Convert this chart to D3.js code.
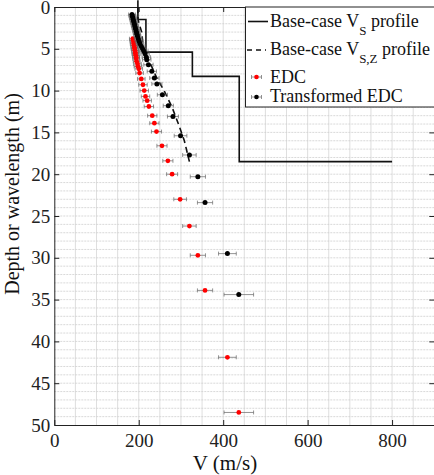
<!DOCTYPE html>
<html>
<head>
<meta charset="utf-8">
<script src="https://cdn.jsdelivr.net/npm/d3@7"></script>
</head>
<body style="margin:0;background:#fff">
<svg width="434" height="475" style="display:block"></svg>
<script>
// base-case Vs step profile (layer velocity and layer top depth)
const vsLayerV = [198, 217, 327, 438, 800]
const vsLayerTop = [-0.8, 1.5, 5.4, 8.3, 18.5]

// base-case Vs,z profile
const vszV = [198, 198, 207, 210, 211, 225, 234, 241, 260, 279, 294, 308, 320]
const vszDepth = [0, 1.5, 3, 4.5, 5.4, 6.5, 7.5, 8.3, 10, 12, 14, 16, 18.5]

// EDC (red)
const edcV = [186, 187, 188, 188, 189, 190, 190, 191, 192, 192,
	193, 194, 194, 195, 197, 198, 200, 202, 206, 210,
	213, 216, 220, 224, 232, 237, 242, 255, 269, 279,
	298, 320, 340, 357, 410, 437]
const edcDepth = [3.8, 4.0, 4.2, 4.4, 4.6, 4.8, 5.0, 5.2, 5.4, 5.6,
	5.8, 6.0, 6.2, 6.5, 6.8, 7.1, 7.4, 7.9, 8.6, 9.3,
	10.0, 10.7, 11.2, 11.9, 13.0, 13.9, 14.9, 16.6, 18.4, 20.0,
	23.0, 26.2, 29.7, 33.9, 41.9, 48.5]
const edcErr = [8, 8, 8, 8, 8, 8, 8, 8, 8, 8,
	8, 8, 8, 8, 9, 9, 9, 9, 9, 10,
	10, 10, 10, 11, 11, 11, 12, 12, 12, 13,
	15, 16, 18, 18, 21, 35]

// transformed EDC (black)
const trV = [184, 185, 186, 187, 188, 189, 190, 191, 192, 193,
	194, 195, 196, 197, 199, 201, 203, 206, 209, 212,
	215, 218, 219, 223, 231, 237, 243, 256, 270, 281,
	299, 320, 340, 357, 410, 437]
const trDepth = [0.9, 1.1, 1.3, 1.5, 1.7, 1.9, 2.1, 2.3, 2.5, 2.7,
	2.9, 3.1, 3.3, 3.5, 3.8, 4.1, 4.4, 4.7, 5.0, 5.3,
	5.6, 6.0, 6.3, 6.9, 7.7, 8.5, 9.2, 10.5, 11.8, 13.1,
	15.4, 17.7, 20.3, 23.4, 29.5, 34.4]
const trErr = [8, 8, 8, 8, 8, 8, 8, 8, 8, 8,
	8, 8, 8, 8, 9, 9, 9, 9, 9, 10,
	10, 10, 10, 11, 11, 11, 12, 12, 12, 13,
	15, 16, 18, 18, 21, 35]

const xTicks = [0, 200, 400, 600, 800]
const yTicks = [0, 5, 10, 15, 20, 25, 30, 35, 40, 45, 50]

const FONT = "'Liberation Serif'"

const svg = d3.select("svg").style("font-family", FONT)

const mLeft = 54.3, mRight = 434.3, mTop = 7, mBottom = 425

const x = d3.scaleLinear().domain([0, 900]).range([mLeft, mRight])
const y = d3.scaleLinear().domain([0, 50]).range([mTop, mBottom])

// grid
const grid = svg.append("g")
grid.selectAll("line.gx")
	.data(d3.range(50, 900, 50))
	.enter()
	.append("line")
	.attr("x1", d => x(d)).attr("x2", d => x(d))
	.attr("y1", mTop).attr("y2", mBottom)
	.style("stroke", "#d6d6d6")
	.style("stroke-width", 0.8)
grid.selectAll("line.gy")
	.data(d3.range(1, 50, 1))
	.enter()
	.append("line")
	.attr("x1", mLeft).attr("x2", mRight)
	.attr("y1", d => y(d)).attr("y2", d => y(d))
	.style("stroke", "#cfcfcf")
	.style("stroke-width", 0.8)
	.style("stroke-dasharray", "2,1")

// axes (ticks pointing inward)
const axisStyle = g => {
	g.attr("font-family", null)
	g.selectAll("path").style("stroke", "#222").style("stroke-width", 1)
	g.selectAll("line").style("stroke", "#222")
	g.selectAll("text").style("font-size", "19px").style("fill", "#222")
		.style("font-family", FONT)
}

svg.append("g")
	.attr("transform", `translate(0,${mBottom})`)
	.call(d3.axisBottom(x).tickValues(xTicks).tickSize(-5).tickSizeOuter(0).tickPadding(9))
	.call(axisStyle)
svg.append("g")
	.attr("transform", `translate(0,${mTop})`)
	.call(d3.axisTop(x).tickValues(xTicks).tickSize(-5).tickSizeOuter(0).tickFormat(""))
	.call(axisStyle)
svg.append("g")
	.attr("transform", `translate(${mLeft},0)`)
	.call(d3.axisLeft(y).tickValues(yTicks).tickSize(-5).tickSizeOuter(0).tickPadding(4))
	.call(axisStyle)
svg.append("g")
	.attr("transform", `translate(${mRight},0)`)
	.call(d3.axisRight(y).tickValues(yTicks).tickSize(-5).tickSizeOuter(0).tickFormat(""))
	.call(axisStyle)

// Vs step profile
const vsPts = []
vsLayerV.forEach((v, i) => {
	if (i > 0) vsPts.push([v, vsLayerTop[i]])
	if (i < vsLayerV.length - 1) {
		vsPts.push([v, vsLayerTop[i]])
		vsPts.push([v, vsLayerTop[i + 1]])
	}
})
const line = d3.line().x(d => x(d[0])).y(d => y(d[1]))

svg.append("path")
	.datum(vsPts)
	.attr("d", line)
	.style("fill", "none")
	.style("stroke", "#111")
	.style("stroke-width", 1.6)

// Vs,z profile
svg.append("path")
	.datum(vszV.map((v, i) => [v, vszDepth[i]]))
	.attr("d", line)
	.style("fill", "none")
	.style("stroke", "#111")
	.style("stroke-width", 1.6)
	.style("stroke-dasharray", "6,4")

// error bar series
function drawSeries(vs, ds, errs, color, r) {
	const pts = vs.map((v, i) => ({ v: v, d: ds[i], e: errs[i] }))
	const g = svg.append("g")
	const bars = g.selectAll("g.bar").data(pts).enter().append("g").attr("class", "bar")
	bars.append("line")
		.attr("x1", d => x(d.v - d.e)).attr("x2", d => x(d.v + d.e))
		.attr("y1", d => y(d.d)).attr("y2", d => y(d.d))
	bars.append("line")
		.attr("x1", d => x(d.v - d.e)).attr("x2", d => x(d.v - d.e))
		.attr("y1", d => y(d.d) - 2).attr("y2", d => y(d.d) + 2)
	bars.append("line")
		.attr("x1", d => x(d.v + d.e)).attr("x2", d => x(d.v + d.e))
		.attr("y1", d => y(d.d) - 2).attr("y2", d => y(d.d) + 2)
	bars.selectAll("line").style("stroke", "#666").style("stroke-width", 0.7)
	g.selectAll("circle").data(pts).enter().append("circle")
		.attr("cx", d => x(d.v)).attr("cy", d => y(d.d)).attr("r", r)
		.style("fill", color)
}
drawSeries(edcV, edcDepth, edcErr, "#ff0000", 2.4)
drawSeries(trV, trDepth, trErr, "#000", 2.5)

// legend
const lg = svg.append("g")
lg.append("rect")
	.attr("x", 245.5).attr("y", mTop).attr("width", 200).attr("height", 100)
	.style("fill", "#fff").style("stroke", "#222").style("stroke-width", 1)

lg.append("line").attr("x1", 248).attr("x2", 268).attr("y1", 21.5).attr("y2", 21.5)
	.style("stroke", "#111").style("stroke-width", 1.6)
lg.append("line").attr("x1", 247).attr("x2", 266).attr("y1", 50).attr("y2", 50)
	.style("stroke", "#111").style("stroke-width", 1.6).style("stroke-dasharray", "5,4")

const legSym = [{ y: 77, c: "#ff0000" }, { y: 97, c: "#000" }]
legSym.forEach(s => {
	lg.append("line").attr("x1", 251.5).attr("x2", 261.5).attr("y1", s.y).attr("y2", s.y)
		.style("stroke", "#666").style("stroke-width", 0.7)
	lg.append("line").attr("x1", 251.5).attr("x2", 251.5).attr("y1", s.y - 2).attr("y2", s.y + 2)
		.style("stroke", "#666").style("stroke-width", 0.7)
	lg.append("line").attr("x1", 261.5).attr("x2", 261.5).attr("y1", s.y - 2).attr("y2", s.y + 2)
		.style("stroke", "#666").style("stroke-width", 0.7)
	lg.append("circle").attr("cx", 256.5).attr("cy", s.y).attr("r", 2.3).style("fill", s.c)
})

const legText = (yy) => lg.append("text").attr("x", 270).attr("y", yy)
	.style("font-family", FONT).style("font-size", "18px").style("fill", "#111")

const t1 = legText(27)
t1.append("tspan").text("Base-case V")
t1.append("tspan").attr("dy", 8).style("font-size", "13px").text("S")
t1.append("tspan").attr("dy", -8).text(" profile")

const t2 = legText(55)
t2.append("tspan").text("Base-case V")
t2.append("tspan").attr("dy", 8).style("font-size", "13px").text("S,Z")
t2.append("tspan").attr("dy", -8).text(" profile")

legText(83).text("EDC")
legText(102).text("Transformed EDC")

// axis labels
svg.append("text")
	.attr("x", 225).attr("y", 470)
	.attr("text-anchor", "middle")
	.style("font-family", FONT)
	.style("font-size", "21px").style("fill", "#111")
	.text("V (m/s)")
svg.append("text")
	.attr("transform", "translate(19,194) rotate(-90)")
	.attr("text-anchor", "middle")
	.style("font-family", FONT)
	.style("font-size", "20px").style("fill", "#111")
	.text("Depth or wavelength (m)")
</script>
</body>
</html>
